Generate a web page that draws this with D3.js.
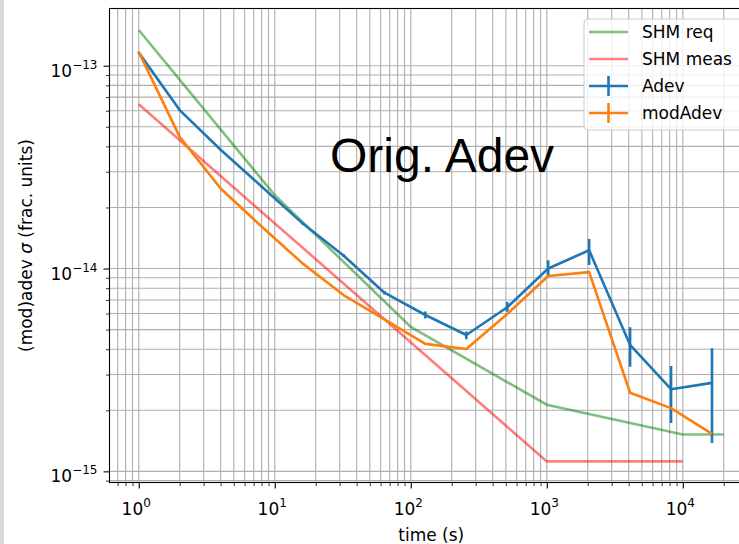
<!DOCTYPE html>
<html>
<head>
<meta charset="utf-8">
<script src="https://cdn.jsdelivr.net/npm/d3@7"></script>
<style>
  body { margin: 0; background: #fff; }
  svg { display: block; }
</style>
</head>
<body>
<script>
// averaging times (s)
var tau = [1, 2, 4, 8, 16, 32, 64, 128, 256, 512, 1024, 2048, 4096, 8192, 16384];

// Adev with error bar ends
var adev   = [1.16e-13, 6.04e-14, 3.85e-14, 2.54e-14, 1.67e-14, 1.16e-14, 7.6e-15, 5.9e-15, 4.7e-15, 6.44e-15, 1.0e-14, 1.23e-14, 4.2e-15, 2.54e-15, 2.73e-15];
var adevLo = [1.15e-13, 5.98e-14, 3.81e-14, 2.51e-14, 1.65e-14, 1.14e-14, 7.45e-15, 5.67e-15, 4.48e-15, 6.12e-15, 9.18e-15, 1.04e-14, 3.28e-15, 1.73e-15, 1.38e-15];
var adevHi = [1.17e-13, 6.10e-14, 3.89e-14, 2.57e-14, 1.69e-14, 1.18e-14, 7.75e-15, 6.14e-15, 4.89e-15, 6.83e-15, 1.10e-14, 1.40e-14, 5.13e-15, 3.31e-15, 4.05e-15];

// modAdev
var modAdev = [1.17e-13, 4.46e-14, 2.48e-14, 1.61e-14, 1.06e-14, 7.4e-15, 5.61e-15, 4.25e-15, 4.01e-15, 5.97e-15, 9.18e-15, 9.6e-15, 2.44e-15, 2.05e-15, 1.53e-15];

// SHM requirement / measurement
var shmReqT = [1, 10, 100, 1000, 10000, 20000];
var shmReq  = [1.5e-13, 2.3e-14, 5.15e-15, 2.13e-15, 1.52e-15, 1.52e-15];
var shmMeasT = [1, 1000, 10000];
var shmMeas  = [6.45e-14, 1.12e-15, 1.12e-15];

var xMajor = [1, 10, 100, 1000, 10000];
var xExp = ["0", "1", "2", "3", "4"];
var yMajor = [1e-13, 1e-14, 1e-15];
var yExp = ["\u221213", "\u221214", "\u221215"];

var legendNames = ["SHM req", "SHM meas", "Adev", "modAdev"];

var W = 739, H = 544;
var pL = 109.5, pR = 753, pT = 8.5, pB = 482.5;
var font = "DejaVu Sans";

var svg = d3.select("body").append("svg")
  .attr("width", W)
  .attr("height", H);

// thin grey strip on the left edge
svg.append("rect").attr("x", 0).attr("y", 0).attr("width", 4).attr("height", H).attr("fill", "#d9d9d9");

var x = d3.scaleLog().domain([Math.pow(10, -0.215), Math.pow(10, 4.516)]).range([pL, pR]);
var y = d3.scaleLog().domain([Math.pow(10, -15.055), Math.pow(10, -12.718)]).range([pB, pT]);

function minors(lo, hi) {
  var out = [];
  for (var e = lo; e <= hi; e++) {
    for (var m = 2; m <= 9; m++) out.push(m * Math.pow(10, e));
  }
  return out;
}
var xMinor = minors(-1, 4).filter(function(v) { return v >= x.domain()[0] && v <= x.domain()[1]; });
var yMinor = minors(-16, -13).filter(function(v) { return v >= y.domain()[0] && v <= y.domain()[1]; });

svg.append("defs").append("clipPath").attr("id", "clip")
  .append("rect").attr("x", pL).attr("y", pT).attr("width", pR - pL).attr("height", pB - pT);

// grid
var grid = svg.append("g").attr("stroke", "#b0b0b0").attr("stroke-width", 1.1);
grid.selectAll(".gx").data(xMajor.concat(xMinor)).enter().append("line")
  .attr("x1", function(d) { return x(d); }).attr("x2", function(d) { return x(d); })
  .attr("y1", pT).attr("y2", pB);
grid.selectAll(".gy").data(yMajor.concat(yMinor)).enter().append("line")
  .attr("y1", function(d) { return y(d); }).attr("y2", function(d) { return y(d); })
  .attr("x1", pL).attr("x2", pR);

var plot = svg.append("g").attr("clip-path", "url(#clip)");
var line = d3.line().x(function(d) { return x(d[0]); }).y(function(d) { return y(d[1]); });

plot.append("path").datum(d3.zip(shmReqT, shmReq)).attr("d", line)
  .attr("fill", "none").attr("stroke", "#008000").attr("stroke-opacity", 0.5).attr("stroke-width", 2.6);
plot.append("path").datum(d3.zip(shmMeasT, shmMeas)).attr("d", line)
  .attr("fill", "none").attr("stroke", "#ff0000").attr("stroke-opacity", 0.5).attr("stroke-width", 2.6);

// Adev
plot.append("path").datum(d3.zip(tau, adev)).attr("d", line)
  .attr("fill", "none").attr("stroke", "#1f77b4").attr("stroke-width", 2.6).attr("stroke-linejoin", "round");
plot.selectAll(".eb").data(d3.zip(tau, adevLo, adevHi)).enter().append("line")
  .attr("x1", function(d) { return x(d[0]); }).attr("x2", function(d) { return x(d[0]); })
  .attr("y1", function(d) { return y(d[1]); }).attr("y2", function(d) { return y(d[2]); })
  .attr("stroke", "#1f77b4").attr("stroke-width", 2.6);

// modAdev
plot.append("path").datum(d3.zip(tau, modAdev)).attr("d", line)
  .attr("fill", "none").attr("stroke", "#ff7f0e").attr("stroke-width", 2.6).attr("stroke-linejoin", "round");

// axes
var xAxis = d3.axisBottom(x).tickValues(xMajor).tickSize(6).tickPadding(6).tickFormat(function() { return "10"; });
var gx = svg.append("g").attr("transform", "translate(0," + pB + ")").call(xAxis);
gx.select(".domain").remove();
gx.selectAll(".tick line").attr("stroke", "#000").attr("stroke-width", 1.1);
gx.selectAll(".tick text")
  .attr("font-family", font).attr("font-size", 17).attr("fill", "#000")
  .attr("dy", null).attr("y", 32).attr("dx", -3)
  .append("tspan").attr("font-size", 12).attr("dy", -8).text(function(d, i) { return xExp[i]; });
var gxm = svg.append("g").attr("transform", "translate(0," + pB + ")")
  .call(d3.axisBottom(x).tickValues(xMinor).tickSize(3.5).tickFormat(""));
gxm.select(".domain").remove();
gxm.selectAll(".tick line").attr("stroke", "#000").attr("stroke-width", 0.8);

var yAxis = d3.axisLeft(y).tickValues(yMajor).tickSize(6).tickPadding(6).tickFormat(function() { return "10"; });
var gy = svg.append("g").attr("transform", "translate(" + pL + ",0)").call(yAxis);
gy.select(".domain").remove();
gy.selectAll(".tick line").attr("stroke", "#000").attr("stroke-width", 1.1);
gy.selectAll(".tick text")
  .attr("font-family", font).attr("font-size", 17).attr("fill", "#000")
  .attr("dy", 10.5)
  .append("tspan").attr("font-size", 12).attr("dy", -8).text(function(d, i) { return yExp[i]; });
var gym = svg.append("g").attr("transform", "translate(" + pL + ",0)")
  .call(d3.axisLeft(y).tickValues(yMinor).tickSize(3.5).tickFormat(""));
gym.select(".domain").remove();
gym.selectAll(".tick line").attr("stroke", "#000").attr("stroke-width", 0.8);

// frame
svg.append("rect").attr("x", pL).attr("y", pT).attr("width", pR - pL).attr("height", pB - pT)
  .attr("fill", "none").attr("stroke", "#000").attr("stroke-width", 1.1);

// labels
svg.append("text").attr("x", (pL + pR) / 2).attr("y", 541).attr("text-anchor", "middle")
  .attr("font-family", font).attr("font-size", 17).text("time (s)");
var yl = svg.append("text").attr("transform", "translate(32," + (pT + pB) / 2 + ") rotate(-90)")
  .attr("text-anchor", "middle").attr("font-family", font).attr("font-size", 17);
yl.append("tspan").text("(mod)adev ");
yl.append("tspan").attr("font-style", "italic").text("\u03c3");
yl.append("tspan").text(" (frac. units)");

svg.append("text").attr("x", 330).attr("y", 172)
  .attr("font-family", "Liberation Sans").attr("font-size", 48).text("Orig. Adev");

// legend
var lg = svg.append("g");
lg.append("rect").attr("x", 584).attr("y", 19).attr("width", 190).attr("height", 111).attr("rx", 4)
  .attr("fill", "#fff").attr("fill-opacity", 0.8).attr("stroke", "#cccccc").attr("stroke-width", 1);
var legColors = ["#008000", "#ff0000", "#1f77b4", "#ff7f0e"];
var legAlpha = [0.5, 0.5, 1, 1];
var rowY = [32, 59, 86, 113];
legendNames.forEach(function(name, i) {
  lg.append("line").attr("x1", 589).attr("x2", 628).attr("y1", rowY[i]).attr("y2", rowY[i])
    .attr("stroke", legColors[i]).attr("stroke-opacity", legAlpha[i]).attr("stroke-width", 2.6);
  if (i >= 2) {
    lg.append("line").attr("x1", 608.5).attr("x2", 608.5).attr("y1", rowY[i] - 10).attr("y2", rowY[i] + 10)
      .attr("stroke", legColors[i]).attr("stroke-width", 2.6);
  }
  lg.append("text").attr("x", 642).attr("y", rowY[i] + 6).attr("font-family", font).attr("font-size", 17)
    .text(name);
});
</script>
</body>
</html>
